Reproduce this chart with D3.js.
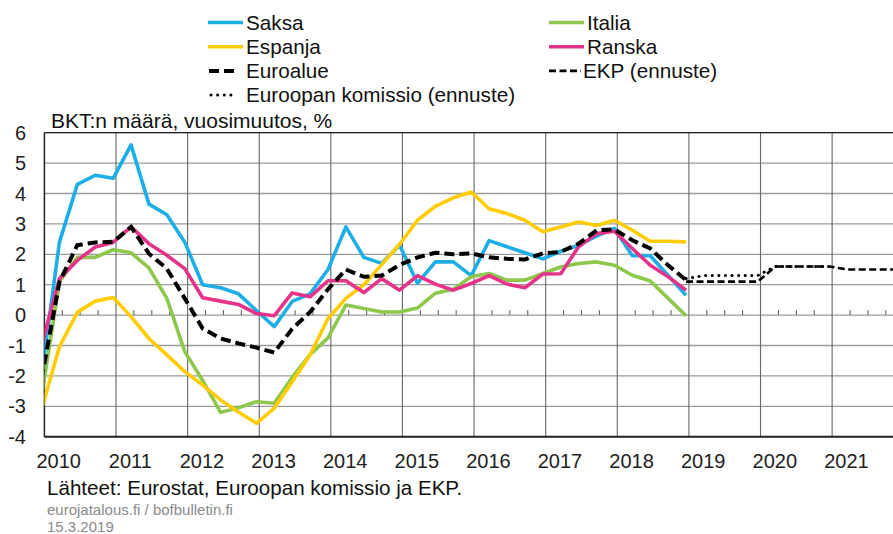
<!DOCTYPE html>
<html>
<head>
<meta charset="utf-8">
<script src="https://cdn.jsdelivr.net/npm/d3@7"></script>
<style>
  body { margin: 0; background: #fff; }
  svg { display: block; font-family: "Liberation Sans", Arial, sans-serif; }
</style>
</head>
<body>
<script>
var width = 893,
  height = 534;

// quarterly data, 2009Q4 ... 2018Q4
var startYear = 2009, startQ = 4;
var saksa = [-2.0, 2.4, 4.3, 4.6, 4.5, 5.6, 3.65, 3.3, 2.4, 1.0, 0.9, 0.7, 0.15,
  -0.38, 0.45, 0.7, 1.5, 2.9, 1.9, 1.7, 2.3, 1.05, 1.75, 1.75, 1.3,
  2.45, 2.25, 2.05, 1.85, 2.1, 2.3, 2.6, 2.85, 1.95, 1.95, 1.3, 0.65];
var italia = [-2.7, 1.1, 1.9, 1.9, 2.15, 2.05, 1.55, 0.55, -1.2, -2.15, -3.2, -3.05, -2.85,
  -2.9, -2.05, -1.3, -0.75, 0.33, 0.22, 0.1, 0.1, 0.23, 0.72, 0.85, 1.26,
  1.37, 1.15, 1.15, 1.37, 1.58, 1.7, 1.75, 1.64, 1.31, 1.12, 0.55, -0.02];
var espanja = [-3.1, -1.04, 0.09, 0.46, 0.58, -0.05, -0.77, -1.31, -1.86, -2.3, -2.79, -3.19, -3.56,
  -3.06, -2.19, -1.31, -0.11, 0.55, 1.0, 1.66, 2.33, 3.12, 3.58, 3.86, 4.05,
  3.5, 3.34, 3.12, 2.74, 2.9, 3.06, 2.95, 3.12, 2.79, 2.43, 2.43, 2.41];
var ranska = [-1.0, 1.2, 1.8, 2.24, 2.39, 2.9, 2.35, 1.97, 1.53, 0.57, 0.46, 0.35, 0.05,
  -0.02, 0.73, 0.6, 1.13, 1.13, 0.74, 1.2, 0.82, 1.3, 1.02, 0.82, 1.04,
  1.3, 1.02, 0.9, 1.35, 1.36, 2.25, 2.68, 2.76, 2.19, 1.64, 1.26, 0.82];
var euroalue = [-2.1, 1.09, 2.3, 2.39, 2.41, 2.9, 2.02, 1.53, 0.55, -0.44, -0.77, -0.93, -1.07,
  -1.23, -0.45, 0.1, 0.85, 1.5, 1.26, 1.3, 1.65, 1.9, 2.05, 2.0, 2.03,
  1.9, 1.85, 1.83, 2.03, 2.08, 2.35, 2.79, 2.82, 2.46, 2.19, 1.64, 1.15];

// forecasts, 2018Q4 ...
var ekp = [1.1, 1.1, 1.1, 1.1, 1.1, 1.6, 1.6, 1.6, 1.6, 1.5, 1.5, 1.5, 1.5];
var komissio = [1.2, 1.3, 1.3, 1.3, 1.3, 1.6, 1.6, 1.6, 1.6];

var yearLabels = [2010, 2011, 2012, 2013, 2014, 2015, 2016, 2017, 2018, 2019, 2020, 2021];
var yTicks = [-4, -3, -2, -1, 0, 1, 2, 3, 4, 5, 6];

function quarterTime(i, y0, q0) {
  var k = (q0 - 1) + i;
  return y0 + Math.floor(k / 4) + (k % 4) / 4 + 0.21;
}
function toPoints(arr, y0, q0) {
  return arr.map(function (v, i) { return { t: quarterTime(i, y0, q0), v: v }; });
}

var svg = d3.select("body").append("svg").attr("width", width).attr("height", height);

var x = d3.scaleLinear().domain([2010, 2021.85]).range([44.4, 893]);
var y = d3.scaleLinear().domain([-4, 6]).range([436.7, 132.7]);

// grid
var grid = svg.append("g");
grid.selectAll("line.h").data(yTicks).enter().append("line")
  .attr("x1", x(2010)).attr("x2", width)
  .attr("y1", function (d) { return y(d); }).attr("y2", function (d) { return y(d); })
  .attr("stroke", "#9a9a9a").attr("stroke-width", 1.3);
grid.selectAll("line.v").data(d3.range(2011, 2022)).enter().append("line")
  .attr("x1", function (d) { return x(d); }).attr("x2", function (d) { return x(d); })
  .attr("y1", y(6)).attr("y2", y(-4))
  .attr("stroke", "#666").attr("stroke-width", 1.1);

// minor ticks on zero line
var minor = d3.range(2010, 2021.85, 0.25).filter(function (d) { return Math.abs(d - Math.round(d)) > 0.01; });
grid.selectAll("line.m").data(minor).enter().append("line")
  .attr("x1", function (d) { return x(d); }).attr("x2", function (d) { return x(d); })
  .attr("y1", y(0)).attr("y2", y(0) - 5)
  .attr("stroke", "#555").attr("stroke-width", 1);

// frame
svg.append("line").attr("x1", x(2010)).attr("x2", width).attr("y1", y(6)).attr("y2", y(6))
  .attr("stroke", "#222").attr("stroke-width", 1.2);
svg.append("line").attr("x1", x(2010)).attr("x2", width).attr("y1", y(-4)).attr("y2", y(-4))
  .attr("stroke", "#222").attr("stroke-width", 2);
svg.append("line").attr("x1", x(2010)).attr("x2", x(2010)).attr("y1", y(6)).attr("y2", y(-4))
  .attr("stroke", "#222").attr("stroke-width", 1.5);

// y labels
svg.selectAll("text.yl").data(yTicks).enter().append("text")
  .attr("x", 26).attr("y", function (d) { return y(d) + 7; })
  .attr("text-anchor", "end").attr("font-size", 20).attr("fill", "#222")
  .text(function (d) { return d; });

// x labels
svg.selectAll("text.xl").data(yearLabels).enter().append("text")
  .attr("x", function (d) { return x(d + 0.2); }).attr("y", 468)
  .attr("text-anchor", "middle").attr("font-size", 20).attr("fill", "#222")
  .text(function (d) { return d; });

// lines
svg.append("clipPath").attr("id", "clip").append("rect")
  .attr("x", x(2010)).attr("y", y(6) - 5).attr("width", width - x(2010)).attr("height", y(-4) - y(6) + 5);

var line = d3.line().x(function (d) { return x(d.t); }).y(function (d) { return y(d.v); });
var plot = svg.append("g").attr("clip-path", "url(#clip)");

var series = [
  { data: saksa, color: "#1eaee6" },
  { data: italia, color: "#8dc84c" },
  { data: espanja, color: "#ffcc00" },
  { data: ranska, color: "#e6338a" }
];
series.forEach(function (s) {
  plot.append("path").attr("d", line(toPoints(s.data, startYear, startQ)))
    .attr("fill", "none").attr("stroke", s.color).attr("stroke-width", 3.6)
    .attr("stroke-linejoin", "round");
});
plot.append("path").attr("d", line(toPoints(euroalue, startYear, startQ)))
  .attr("fill", "none").attr("stroke", "#000").attr("stroke-width", 4)
  .attr("stroke-dasharray", "10,5");
plot.append("path").attr("d", line(toPoints(ekp, 2018, 4)))
  .attr("fill", "none").attr("stroke", "#000").attr("stroke-width", 2.6)
  .attr("stroke-dasharray", "7,3.5");
plot.append("path").attr("d", line(toPoints(komissio, 2018, 4)))
  .attr("fill", "none").attr("stroke", "#000").attr("stroke-width", 3)
  .attr("stroke-dasharray", "0.1,6.5").attr("stroke-linecap", "round");

// legend
var legend = [
  { name: "Saksa", x: 208, len: 35, row: 0, color: "#1eaee6", w: 3.6, dash: null },
  { name: "Italia", x: 549, len: 35, row: 0, color: "#8dc84c", w: 3.6, dash: null },
  { name: "Espanja", x: 208, len: 35, row: 1, color: "#ffcc00", w: 3.6, dash: null },
  { name: "Ranska", x: 549, len: 35, row: 1, color: "#e6338a", w: 3.6, dash: null },
  { name: "Euroalue", x: 209, len: 25, row: 2, color: "#000", w: 4, dash: "10,5" },
  { name: "EKP (ennuste)", x: 549, len: 32, row: 2, color: "#000", w: 2.6, dash: "7,3.5" },
  { name: "Euroopan komissio (ennuste)", x: 211, len: 21, row: 3, color: "#000", w: 3, dash: "0.1,6.5" }
];
var lg = svg.append("g");
legend.forEach(function (d) {
  var cy = 22.5 + d.row * 24.2;
  lg.append("line").attr("x1", d.x).attr("x2", d.x + d.len).attr("y1", cy).attr("y2", cy)
    .attr("stroke", d.color).attr("stroke-width", d.w)
    .attr("stroke-dasharray", d.dash).attr("stroke-linecap", d.dash === "0.1,6.5" ? "round" : "butt");
  var tx = d.row < 2 ? d.x + 38 : (d.x < 300 ? 246 : 583);
  lg.append("text").attr("x", tx).attr("y", cy + 7)
    .attr("font-size", 20.7).attr("fill", "#111").text(d.name);
});

// titles and notes
svg.append("text").attr("x", 51).attr("y", 128).attr("font-size", 21).attr("fill", "#111")
  .text("BKT:n määrä, vuosimuutos, %");
svg.append("text").attr("x", 47).attr("y", 495).attr("font-size", 20.6).attr("fill", "#111")
  .text("Lähteet: Eurostat, Euroopan komissio ja EKP.");
svg.append("text").attr("x", 47).attr("y", 515).attr("font-size", 15).attr("fill", "#8a8a8a")
  .text("eurojatalous.fi / bofbulletin.fi");
svg.append("text").attr("x", 47).attr("y", 532).attr("font-size", 15).attr("fill", "#8a8a8a")
  .text("15.3.2019");
</script>
</body>
</html>
